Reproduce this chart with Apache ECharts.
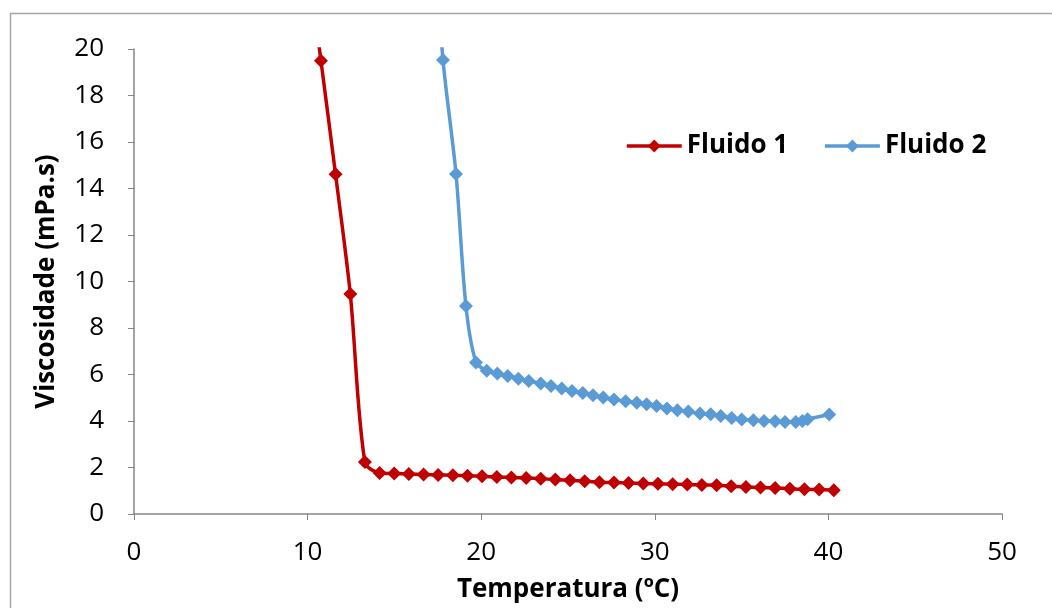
<!DOCTYPE html>
<html>
<head>
<meta charset="utf-8">
<style>
html,body{margin:0;padding:0;background:#fff;}
#c{width:1052px;height:608px;}
</style>
<script src="https://cdn.jsdelivr.net/npm/echarts@6/dist/echarts.min.js"></script>
</head>
<body>
<div id="c"></div>
<script>
const xTicks = [0, 10, 20, 30, 40, 50];
const yTicks = [0, 2, 4, 6, 8, 10, 12, 14, 16, 18, 20];
const seriesNames = ['Fluido 1', 'Fluido 2'];

const fluido1Temp = [9.93, 10.77, 11.61, 12.46, 13.30, 14.15, 14.99, 15.83, 16.68, 17.52, 18.37, 19.21, 20.05, 20.90, 21.74, 22.59, 23.43, 24.27, 25.12, 25.96, 26.81, 27.65, 28.49, 29.34, 30.18, 31.03, 31.87, 32.71, 33.56, 34.40, 35.25, 36.09, 36.93, 37.78, 38.62, 39.47, 40.31];
const fluido1Visc = [24.3, 19.49, 14.61, 9.46, 2.24, 1.76, 1.74, 1.72, 1.70, 1.68, 1.67, 1.64, 1.62, 1.59, 1.57, 1.55, 1.52, 1.48, 1.45, 1.41, 1.37, 1.35, 1.33, 1.31, 1.30, 1.28, 1.27, 1.25, 1.24, 1.19, 1.16, 1.14, 1.12, 1.09, 1.06, 1.05, 1.02];

const fluido2Temp = [17.2, 17.80, 18.55, 19.12, 19.70, 20.32, 20.93, 21.53, 22.14, 22.74, 23.43, 24.02, 24.64, 25.23, 25.85, 26.44, 27.03, 27.65, 28.32, 28.96, 29.53, 30.10, 30.70, 31.30, 31.93, 32.60, 33.22, 33.80, 34.43, 35.01, 35.68, 36.29, 36.93, 37.50, 38.12, 38.50, 38.80, 40.05];
const fluido2Visc = [26.0, 19.53, 14.62, 8.95, 6.52, 6.16, 6.04, 5.94, 5.82, 5.72, 5.61, 5.51, 5.40, 5.29, 5.20, 5.11, 5.01, 4.92, 4.85, 4.78, 4.72, 4.65, 4.54, 4.46, 4.41, 4.32, 4.29, 4.22, 4.13, 4.06, 4.03, 4.00, 3.99, 3.96, 3.96, 4.00, 4.08, 4.28];

const colors = ['#C00000', '#5B9BD5'];
const FONT = '"Open Sans", "Noto Sans", sans-serif';
const axisCol = '#868686';

function pairs(xs, ys) { return xs.map((x, i) => [x, ys[i]]); }

const chart = echarts.init(document.getElementById('c'));
chart.setOption({
  animation: false,
  backgroundColor: '#fff',
  graphic: [{
    type: 'rect', left: 8, top: 11, z: -10,
    shape: { width: 1200, height: 800 },
    style: { fill: 'none', stroke: '#a6a6a6', lineWidth: 1.5 }
  }],
  grid: { left: 134, top: 49, right: 50, bottom: 94, containLabel: false },
  legend: {
    data: seriesNames,
    left: 625, top: 133, padding: 0,
    itemWidth: 55, itemHeight: 16, itemGap: 35,
    lineStyle: { width: 3.5 },
    textStyle: { fontFamily: FONT, fontSize: 26, fontWeight: 'bold', color: '#000' }
  },
  xAxis: {
    type: 'value', min: xTicks[0], max: xTicks[xTicks.length - 1], interval: 10,
    name: 'Temperatura (ºC)', nameLocation: 'middle', nameGap: 63,
    nameTextStyle: { fontFamily: FONT, fontSize: 26, fontWeight: 'bold', color: '#000' },
    axisLine: { show: true, lineStyle: { color: axisCol, width: 1.5 } },
    axisTick: { show: true, length: 6, lineStyle: { color: axisCol } },
    axisLabel: { fontFamily: FONT, fontSize: 26, color: '#000', margin: 26 },
    splitLine: { show: false }
  },
  yAxis: {
    type: 'value', min: yTicks[0], max: yTicks[yTicks.length - 1], interval: 2,
    name: 'Viscosidade (mPa.s)', nameLocation: 'middle', nameGap: 74,
    nameTextStyle: { fontFamily: FONT, fontSize: 26, fontWeight: 'bold', color: '#000' },
    axisLine: { show: true, lineStyle: { color: axisCol, width: 1.5 } },
    axisTick: { show: true, length: 6, lineStyle: { color: axisCol } },
    axisLabel: { fontFamily: FONT, fontSize: 26, color: '#000', margin: 30 },
    splitLine: { show: false }
  },
  series: [
    {
      name: seriesNames[0], type: 'line', data: pairs(fluido1Temp, fluido1Visc),
      smooth: 0.3, clip: true, symbol: 'diamond', symbolSize: 14, showAllSymbol: true,
      lineStyle: { color: colors[0], width: 3.5 }, itemStyle: { color: colors[0] }
    },
    {
      name: seriesNames[1], type: 'line', data: pairs(fluido2Temp, fluido2Visc),
      smooth: 0.3, clip: true, symbol: 'diamond', symbolSize: 14, showAllSymbol: true,
      lineStyle: { color: colors[1], width: 3.5 }, itemStyle: { color: colors[1] }
    }
  ]
});
</script>
</body>
</html>
